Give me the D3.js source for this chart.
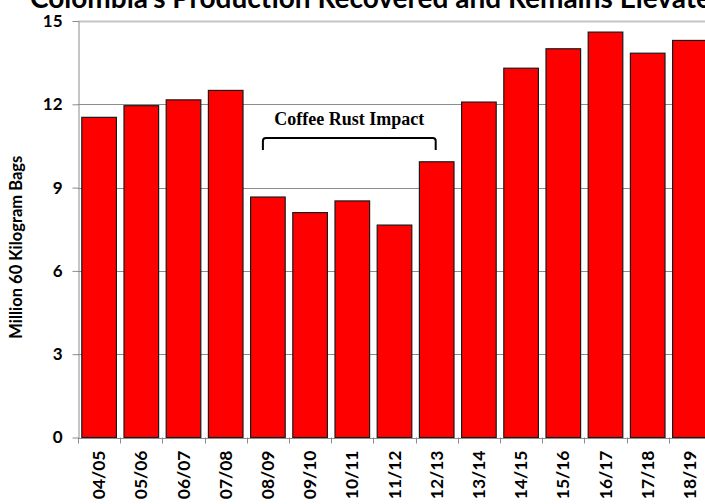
<!DOCTYPE html>
<html>
<head>
<meta charset="utf-8">
<script src="https://cdn.jsdelivr.net/npm/d3@7/dist/d3.min.js"></script>
<style>
  html, body { margin: 0; padding: 0; background: #fff; }
  svg { display: block; }
</style>
</head>
<body>
<svg id="chart" width="705" height="504"></svg>
<script>
// Colombia coffee production by marketing year (million 60 kg bags)
const seasons = ["04/05","05/06","06/07","07/08","08/09","09/10","10/11","11/12",
                 "12/13","13/14","14/15","15/16","16/17","17/18","18/19"];
const production = [11.53, 11.95, 12.16, 12.5, 8.66, 8.1, 8.52, 7.65,
                    9.93, 12.08, 13.3, 14.0, 14.6, 13.84, 14.3];
const yTicks = [0, 3, 6, 9, 12, 15];
const rustSpan = ["08/09", "12/13"];

const svg = d3.select("#chart");
const plotLeft = 78, plotBottom = 437.5, plotTop = 21;
const step = 42.2;

const x = d3.scaleBand()
  .domain(seasons)
  .range([plotLeft, plotLeft + step * seasons.length])
  .paddingInner(0.18)
  .paddingOuter(0.09);

const y = d3.scaleLinear().domain([0, 15]).range([plotBottom, plotTop]);

// Title (runs off the top and right edges of the frame)
svg.append("text")
  .attr("x", 30).attr("y", 8)
  .attr("font-family", "Lato, sans-serif")
  .attr("font-weight", "bold")
  .attr("font-size", 28)
  .attr("fill", "#000")
  .text("Colombia's Production Recovered and Remains Elevated");

// Horizontal gridlines
svg.append("g").selectAll("line")
  .data(yTicks.filter(d => d > 0))
  .join("line")
  .attr("x1", plotLeft).attr("x2", 705)
  .attr("y1", d => Math.round(y(d)) + 0.5).attr("y2", d => Math.round(y(d)) + 0.5)
  .attr("stroke", d => d === 15 ? "#c4c4c4" : "#8c8c8c")
  .attr("stroke-width", d => d === 15 ? 2 : 1);

// Y axis
const yAxis = svg.append("g")
  .attr("transform", `translate(${plotLeft + 0.5},0)`)
  .call(d3.axisLeft(y).tickValues(yTicks).tickSize(6).tickPadding(10).tickSizeOuter(0));
yAxis.select(".domain").attr("stroke", "#8c8c8c");
yAxis.selectAll(".tick line").attr("stroke", "#8c8c8c");
yAxis.selectAll(".tick text")
  .attr("font-family", "Lato, sans-serif")
  .attr("font-weight", "bold")
  .attr("font-size", 17)
  .attr("fill", "#000");

// Y axis title
svg.append("text")
  .attr("transform", `translate(22,${(plotTop + plotBottom) / 2 + 18}) rotate(-90)`)
  .attr("text-anchor", "middle")
  .attr("font-family", "Lato, sans-serif")
  .attr("font-weight", "bold")
  .attr("font-size", 16.5)
  .attr("fill", "#000")
  .text("Million 60 Kilogram Bags");

// Bars
svg.append("g").selectAll("rect")
  .data(seasons.map((s, i) => ({ s, v: production[i] })))
  .join("rect")
  .attr("x", d => x(d.s))
  .attr("width", x.bandwidth())
  .attr("y", d => y(d.v))
  .attr("height", d => plotBottom - y(d.v))
  .attr("fill", "#ff0000")
  .attr("stroke", "#1a1a1a")
  .attr("stroke-width", 1.2);

// X axis: baseline and category boundary ticks
const xg = svg.append("g");
xg.append("line")
  .attr("x1", plotLeft).attr("x2", 705)
  .attr("y1", Math.round(plotBottom) + 0.5).attr("y2", Math.round(plotBottom) + 0.5)
  .attr("stroke", "#8c8c8c");
xg.selectAll("line.bt")
  .data(d3.range(seasons.length + 1))
  .join("line")
  .attr("class", "bt")
  .attr("x1", i => Math.round(plotLeft + i * step) + 0.5)
  .attr("x2", i => Math.round(plotLeft + i * step) + 0.5)
  .attr("y1", plotBottom).attr("y2", plotBottom + 6)
  .attr("stroke", "#8c8c8c");

// Category labels, rotated
xg.selectAll("text")
  .data(seasons)
  .join("text")
  .attr("transform", d => `translate(${x(d) + x.bandwidth() / 2 + 6},${plotBottom + 13}) rotate(-90)`)
  .attr("text-anchor", "end")
  .attr("font-family", "Lato, sans-serif")
  .attr("font-weight", "bold")
  .attr("font-size", 17.5)
  .attr("fill", "#000")
  .text(d => d);

// Coffee rust bracket over the affected seasons
const bx1 = x(rustSpan[0]) + x.bandwidth() / 2 - 5;
const bx2 = x(rustSpan[1]) + x.bandwidth() / 2 - 1;
const by = 138, bh = 12, r = 3;
svg.append("path")
  .attr("d", `M${bx1},${by + bh} V${by + r} Q${bx1},${by} ${bx1 + r},${by} H${bx2 - r} Q${bx2},${by} ${bx2},${by + r} V${by + bh}`)
  .attr("fill", "none")
  .attr("stroke", "#000")
  .attr("stroke-width", 2);

svg.append("text")
  .attr("x", (bx1 + bx2) / 2)
  .attr("y", 125)
  .attr("text-anchor", "middle")
  .attr("font-family", "'Liberation Serif', 'Times New Roman', serif")
  .attr("font-weight", "bold")
  .attr("font-size", 18)
  .attr("fill", "#000")
  .text("Coffee Rust Impact");
</script>
</body>
</html>
